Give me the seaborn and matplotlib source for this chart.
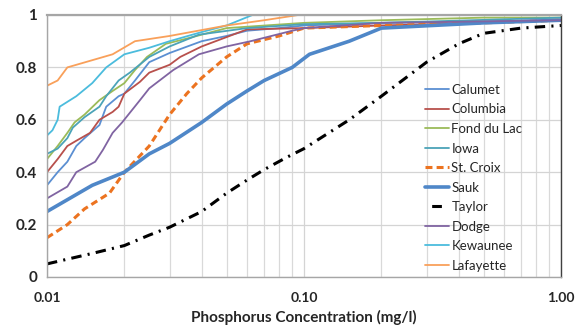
import numpy as np
import pandas as pd
import matplotlib
matplotlib.use("Agg")
import matplotlib.pyplot as plt
from matplotlib.lines import Line2D
from matplotlib.ticker import FixedLocator, FixedFormatter, NullFormatter, LogLocator
import seaborn as sns

# values
calumet_x = [0.01, 0.011, 0.012, 0.013, 0.014, 0.016, 0.017, 0.019, 0.02, 0.022, 0.025, 0.03, 0.04, 0.05, 0.06, 0.08, 0.1, 0.2, 1.0]
calumet_y = [0.35, 0.40, 0.44, 0.50, 0.53, 0.58, 0.65, 0.69, 0.70, 0.75, 0.82, 0.855, 0.90, 0.92, 0.94, 0.95, 0.96, 0.97, 0.98]

columbia_x = [0.01, 0.011, 0.012, 0.013, 0.0147, 0.016, 0.018, 0.019, 0.02, 0.023, 0.025, 0.03, 0.033, 0.04, 0.06, 0.1, 0.2, 0.5, 1.0]
columbia_y = [0.40, 0.45, 0.50, 0.52, 0.55, 0.60, 0.63, 0.65, 0.70, 0.745, 0.78, 0.81, 0.84, 0.88, 0.945, 0.95, 0.96, 0.97, 0.98]

fond_du_lac_x = [0.01, 0.011, 0.012, 0.0128, 0.014, 0.016, 0.018, 0.02, 0.022, 0.0245, 0.029, 0.035, 0.05, 0.1, 0.2, 0.5, 1.0]
fond_du_lac_y = [0.45, 0.50, 0.55, 0.59, 0.62, 0.675, 0.71, 0.74, 0.79, 0.84, 0.89, 0.91, 0.95, 0.97, 0.98, 0.99, 0.99]

iowa_x = [0.01, 0.011, 0.012, 0.0126, 0.014, 0.016, 0.017, 0.019, 0.021, 0.025, 0.03, 0.039, 0.06, 0.1, 0.2, 1.0]
iowa_y = [0.47, 0.49, 0.53, 0.57, 0.61, 0.65, 0.69, 0.75, 0.78, 0.84, 0.88, 0.925, 0.95, 0.965, 0.97, 0.99]

st_croix_x = [0.01, 0.012, 0.014, 0.0175, 0.02, 0.025, 0.03, 0.035, 0.04, 0.05, 0.06, 0.08, 0.1, 0.2, 0.5, 1.0]
st_croix_y = [0.15, 0.20, 0.26, 0.32, 0.40, 0.50, 0.62, 0.70, 0.76, 0.84, 0.89, 0.92, 0.95, 0.96, 0.97, 0.98]

sauk_x = [0.01, 0.015, 0.02, 0.025, 0.03, 0.04, 0.05, 0.06, 0.07, 0.09, 0.105, 0.15, 0.2, 0.5, 1.0]
sauk_y = [0.25, 0.35, 0.40, 0.47, 0.51, 0.59, 0.66, 0.71, 0.75, 0.80, 0.85, 0.90, 0.95, 0.97, 0.98]

taylor_x = [0.01, 0.015, 0.02, 0.025, 0.03, 0.04, 0.05, 0.06, 0.07, 0.085, 0.1, 0.15, 0.2, 0.3, 0.4, 0.5, 0.7, 1.0]
taylor_y = [0.05, 0.09, 0.12, 0.16, 0.19, 0.25, 0.32, 0.37, 0.41, 0.455, 0.49, 0.60, 0.69, 0.82, 0.89, 0.93, 0.95, 0.96]

dodge_x = [0.01, 0.012, 0.013, 0.0154, 0.0165, 0.018, 0.0196, 0.023, 0.025, 0.031, 0.039, 0.05, 0.062, 0.09, 0.1, 0.2, 1.0]
dodge_y = [0.30, 0.345, 0.40, 0.44, 0.485, 0.55, 0.59, 0.675, 0.72, 0.79, 0.85, 0.88, 0.90, 0.94, 0.95, 0.97, 0.98]

kewaunee_x = [0.01, 0.0105, 0.011, 0.0112, 0.013, 0.015, 0.017, 0.02, 0.025, 0.03, 0.04, 0.05, 0.063]
kewaunee_y = [0.54, 0.56, 0.60, 0.65, 0.69, 0.74, 0.80, 0.85, 0.875, 0.90, 0.935, 0.96, 1.0]

lafayette_x = [0.01, 0.011, 0.012, 0.018, 0.022, 0.03, 0.05, 0.07, 0.095]
lafayette_y = [0.73, 0.75, 0.80, 0.85, 0.90, 0.92, 0.96, 0.98, 1.0]

x_ticks = [0.01, 0.1, 1.0]
x_tick_labels = ["0.01", "0.10", "1.00"]
y_ticks = [0, 0.2, 0.4, 0.6, 0.8, 1.0]
y_tick_labels = ["0", "0.2", "0.4", "0.6", "0.8", "1"]

sns.set_style("white")
plt.rcParams['font.family'] = ['Lato', 'DejaVu Sans']
plt.rcParams['lines.scale_dashes'] = False

series = [
    ("Calumet", calumet_x, calumet_y, "#5B8FD2", 1.3, "-"),
    ("Columbia", columbia_x, columbia_y, "#B8504C", 1.3, "-"),
    ("Fond du Lac", fond_du_lac_x, fond_du_lac_y, "#9BBB59", 1.3, "-"),
    ("Iowa", iowa_x, iowa_y, "#4BA3B8", 1.3, "-"),
    ("St. Croix", st_croix_x, st_croix_y, "#EC7320", 2.2, (0, (5, 3))),
    ("Sauk", sauk_x, sauk_y, "#4F87C8", 2.6, "-"),
    ("Taylor", taylor_x, taylor_y, "#000000", 2.2, (0, (7.5, 4.5, 1.5, 4.5))),
    ("Dodge", dodge_x, dodge_y, "#8064A2", 1.3, "-"),
    ("Kewaunee", kewaunee_x, kewaunee_y, "#4BBCDD", 1.3, "-"),
    ("Lafayette", lafayette_x, lafayette_y, "#F9A05A", 1.3, "-"),
]

fig = plt.figure(figsize=(5.76, 3.29), dpi=100)
ax = fig.add_axes([47 / 576, 1 - 277 / 329, (561 - 47) / 576, (277 - 15) / 329])

handles = []
for name, xs, ys, color, lw, ls in series:
    df = pd.DataFrame({"conc": xs, "frac": ys})
    sns.lineplot(data=df, x="conc", y="frac", ax=ax, color=color, lw=lw,
                 linestyle=ls, legend=False, estimator=None)
    if name == "Taylor":
        hls = (22.2, (7, 20))
    else:
        hls = ls
    handles.append(Line2D([0], [0], color=color, lw=lw, linestyle=hls, label=name))

ax.set_xscale("log")
ax.set_xlim(0.01, 1.0)
ax.set_ylim(0, 1.0)

ax.xaxis.set_major_locator(FixedLocator(x_ticks))
ax.xaxis.set_major_formatter(FixedFormatter(x_tick_labels))
ax.xaxis.set_minor_locator(LogLocator(base=10, subs=np.arange(2, 10)))
ax.xaxis.set_minor_formatter(NullFormatter())
ax.yaxis.set_major_locator(FixedLocator(y_ticks))
ax.yaxis.set_major_formatter(FixedFormatter(y_tick_labels))

ax.grid(True, which="major", color="#D4D4D4", lw=0.9)
ax.grid(True, which="minor", axis="x", color="#D9D9D9", lw=0.9)
ax.set_axisbelow(True)

ax.tick_params(axis="both", which="major", length=4, width=0.9, color="#A6A6A6", pad=3)
ax.tick_params(axis="y", which="major", labelsize=11)
ax.tick_params(axis="x", which="major", labelsize=10, pad=7)
ax.tick_params(axis="x", which="minor", length=0)
for lab in ax.get_xticklabels() + ax.get_yticklabels():
    lab.set_fontweight("bold")
    lab.set_color("#262626")

for side in ["left", "bottom", "top"]:
    ax.spines[side].set_color("#A6A6A6")
    ax.spines[side].set_linewidth(1.0)
ax.spines["top"].set_linewidth(1.6)
ax.spines["right"].set_color("#404040")
ax.spines["right"].set_linewidth(1.0)

ax.set_xlabel("Phosphorus Concentration (mg/l)", fontsize=11, fontweight="bold",
              color="#262626", labelpad=4)
ax.set_ylabel("")

ax.legend(handles=handles, loc="upper left", bbox_to_anchor=(0.725, 0.757),
          frameon=False, fontsize=9.5, handlelength=1.8, handletextpad=0.2,
          labelspacing=0.57, borderaxespad=0, labelcolor="#262626")

fig.savefig("out.png", dpi=100)
